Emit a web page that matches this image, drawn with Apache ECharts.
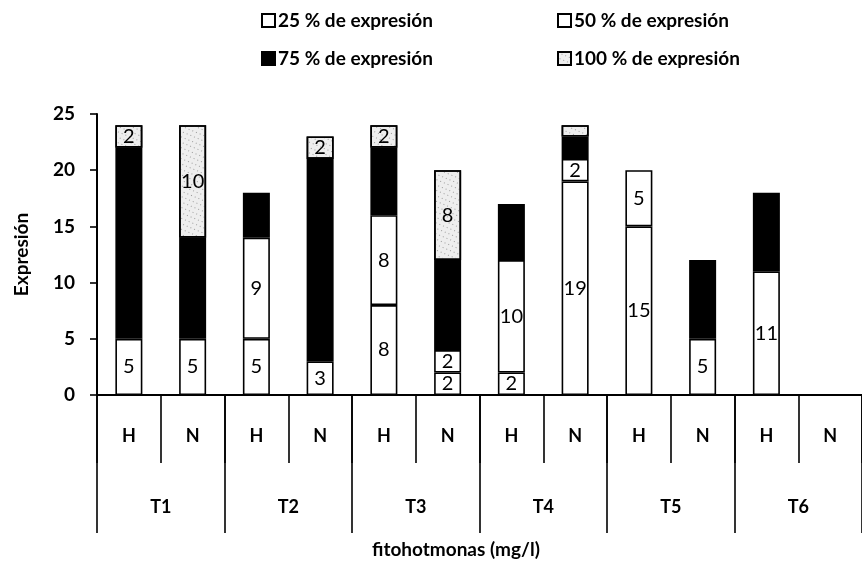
<!DOCTYPE html>
<html>
<head>
<meta charset="utf-8">
<script src="https://cdn.jsdelivr.net/npm/echarts@6/dist/echarts.min.js"></script>
<style>
html,body{margin:0;padding:0;background:#fff;}
#chart{width:862px;height:573px;}
</style>
</head>
<body>
<div id="chart"></div>
<script>
const categories = ['H','N','H','N','H','N','H','N','H','N','H','N'];
const groups = ['T1','T2','T3','T4','T5','T6'];
const seriesNames = ['25 % de expresión','50 % de expresión','75 % de expresión','100 % de expresión'];
const v25  = [5, 5, 5, 3, 8, 2, 2, 19, 15, 5, 11, 0];
const v50  = [0, 0, 9, 0, 8, 2, 10, 2, 5, 0, 0, 0];
const v75  = [17, 9, 4, 18, 6, 8, 5, 2, 0, 7, 7, 0];
const v100 = [2, 10, 0, 2, 2, 8, 0, 1, 0, 0, 0, 0];
const yTicks = {min: 0, max: 25, interval: 5};

const FONT = 'Lato';
const chart = echarts.init(document.getElementById('chart'), null, {renderer:'canvas'});

const labelStyle = {
  show: true, position: 'inside', color: '#000', fontFamily: FONT,
  fontSize: 20, fontWeight: 'normal',
  formatter: p => (p.value >= 2 ? String(p.value) : '')
};
const border = {borderColor: '#000', borderWidth: 1.6};
const noZero = arr => arr.map(v => (v === 0 ? '-' : v));

function mk(name, data, color, extra) {
  return Object.assign({
    name, type: 'bar', stack: 'total', data: noZero(data), barWidth: 27,
    xAxisIndex: 0, yAxisIndex: 0,
    itemStyle: Object.assign({color}, border),
    label: labelStyle,
    emphasis: {disabled: true}
  }, extra || {});
}

const dotDecal = {
  symbol: 'rect', symbolSize: 1,
  color: 'rgba(90,90,90,0.55)',
  dashArrayX: [1, 3], dashArrayY: [1, 4], rotation: 0.4
};

const series = [
  mk(seriesNames[0], v25, '#ffffff'),
  mk(seriesNames[1], v50, '#ffffff'),
  mk(seriesNames[2], v75, '#000000', {label: {show: false}}),
  mk(seriesNames[3], v100, '#eeeeee', {
    itemStyle: Object.assign({color: '#eeeeee', decal: dotDecal}, border)
  })
];

const legendPos = [[256, 6], [552, 6], [256, 44], [552, 44]];
const legends = seriesNames.map((n, i) => ({
  data: [n], left: legendPos[i][0], top: legendPos[i][1],
  icon: 'rect', itemWidth: 13, itemHeight: 13, itemGap: 4,
  selectedMode: false,
  textStyle: {fontFamily: FONT, fontSize: 19, fontWeight: 'bold', color: '#000', padding: [0,0,0,-2]}
}));

const option = {
  backgroundColor: '#fff',
  animation: false,
  legend: legends,
  grid: {left: 97, right: -15, top: 114, bottom: 178, containLabel: false},
  xAxis: [
    {
      type: 'category', data: categories, position: 'bottom',
      axisLine: {show: true, lineStyle: {color: '#000', width: 2}},
      axisTick: {show: true, interval: 0, length: 68, lineStyle: {color: '#000', width: 1.6}},
      axisLabel: {interval: 0, margin: 32, color: '#000', fontFamily: FONT, fontSize: 18, fontWeight: 'bold'},
      splitLine: {show: false}
    },
    {
      type: 'category', data: groups, position: 'bottom', offset: 0,
      axisLine: {show: false},
      axisTick: {show: true, interval: 0, length: 138, lineStyle: {color: '#000', width: 1.6}},
      axisLabel: {interval: 0, margin: 103, color: '#000', fontFamily: FONT, fontSize: 18, fontWeight: 'bold'},
      splitLine: {show: false}
    }
  ],
  yAxis: {
    type: 'value', min: yTicks.min, max: yTicks.max, interval: yTicks.interval,
    name: 'Expresión', nameLocation: 'middle', nameGap: 66, nameRotate: 90,
    nameTextStyle: {fontFamily: FONT, fontSize: 19, fontWeight: 'bold', color: '#000'},
    axisLine: {show: true, lineStyle: {color: '#000', width: 2}},
    axisTick: {show: true, length: 7, lineStyle: {color: '#000', width: 1.6}},
    axisLabel: {margin: 22, color: '#000', fontFamily: FONT, fontSize: 19, fontWeight: 'bold'},
    splitLine: {show: false}
  },
  graphic: [{
    type: 'text', left: 372, top: 540,
    style: {text: 'fitohotmonas (mg/l)', fontFamily: FONT, fontSize: 19, fontWeight: 'bold', fill: '#000'}
  }],
  series
};
chart.setOption(option);
</script>
</body>
</html>
